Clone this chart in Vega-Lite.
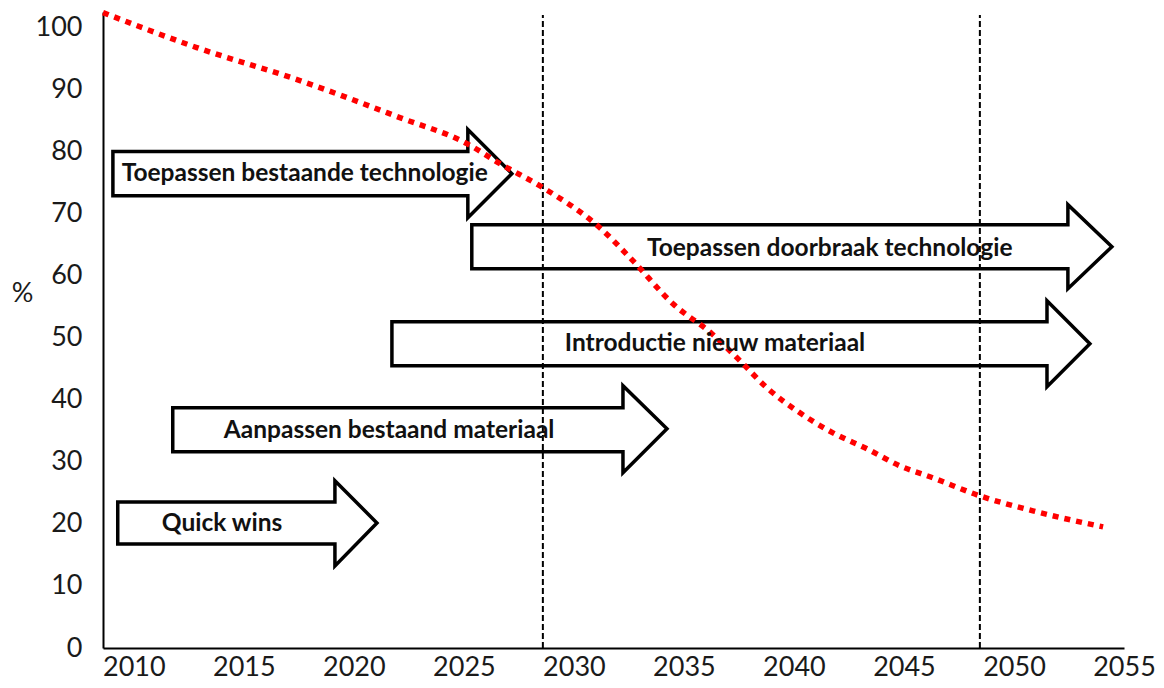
{
  "$schema": "https://vega.github.io/schema/vega-lite/v6.json",
  "width": 1021,
  "height": 636,
  "autosize": {"type": "none"},
  "padding": {"left": 103, "top": 12, "right": 40, "bottom": 40},
  "background": "white",
  "config": {"view": {"stroke": null}, "font": "Lato"},
  "datasets": {
    "curve": [
      {"year": 2008.6, "pct": 102.4},
      {"year": 2012.86, "pct": 96.77},
      {"year": 2017.55, "pct": 91.45},
      {"year": 2022.09, "pct": 85.48},
      {"year": 2025.14, "pct": 81.29},
      {"year": 2026.64, "pct": 78.06},
      {"year": 2028.59, "pct": 74.19},
      {"year": 2031.18, "pct": 67.74},
      {"year": 2032.68, "pct": 62.42},
      {"year": 2034.5, "pct": 55.48},
      {"year": 2036.27, "pct": 50.65},
      {"year": 2037.55, "pct": 46.29},
      {"year": 2038.77, "pct": 41.94},
      {"year": 2040.27, "pct": 37.9},
      {"year": 2041.77, "pct": 34.68},
      {"year": 2043.32, "pct": 32.1},
      {"year": 2044.82, "pct": 29.35},
      {"year": 2046.32, "pct": 27.42},
      {"year": 2048.45, "pct": 24.52},
      {"year": 2050.86, "pct": 22.1},
      {"year": 2054.05, "pct": 19.52}
    ],
    "arrows": [
      {"arrow": "A", "i": 0, "year": 2009.05, "pct": 80.0},
      {"arrow": "A", "i": 1, "year": 2025.18, "pct": 80.0},
      {"arrow": "A", "i": 2, "year": 2025.18, "pct": 83.55},
      {"arrow": "A", "i": 3, "year": 2027.18, "pct": 76.45},
      {"arrow": "A", "i": 4, "year": 2025.18, "pct": 69.35},
      {"arrow": "A", "i": 5, "year": 2025.18, "pct": 72.9},
      {"arrow": "A", "i": 6, "year": 2009.05, "pct": 72.9},
      {"arrow": "A", "i": 7, "year": 2009.05, "pct": 80.0},
      {"arrow": "B", "i": 0, "year": 2025.36, "pct": 68.23},
      {"arrow": "B", "i": 1, "year": 2052.45, "pct": 68.23},
      {"arrow": "B", "i": 2, "year": 2052.45, "pct": 71.45},
      {"arrow": "B", "i": 3, "year": 2054.45, "pct": 64.68},
      {"arrow": "B", "i": 4, "year": 2052.45, "pct": 57.9},
      {"arrow": "B", "i": 5, "year": 2052.45, "pct": 61.13},
      {"arrow": "B", "i": 6, "year": 2025.36, "pct": 61.13},
      {"arrow": "B", "i": 7, "year": 2025.36, "pct": 68.23},
      {"arrow": "C", "i": 0, "year": 2021.73, "pct": 52.58},
      {"arrow": "C", "i": 1, "year": 2051.5, "pct": 52.58},
      {"arrow": "C", "i": 2, "year": 2051.5, "pct": 55.97},
      {"arrow": "C", "i": 3, "year": 2053.45, "pct": 49.03},
      {"arrow": "C", "i": 4, "year": 2051.5, "pct": 42.1},
      {"arrow": "C", "i": 5, "year": 2051.5, "pct": 45.48},
      {"arrow": "C", "i": 6, "year": 2021.73, "pct": 45.48},
      {"arrow": "C", "i": 7, "year": 2021.73, "pct": 52.58},
      {"arrow": "D", "i": 0, "year": 2011.77, "pct": 38.71},
      {"arrow": "D", "i": 1, "year": 2032.23, "pct": 38.71},
      {"arrow": "D", "i": 2, "year": 2032.23, "pct": 42.26},
      {"arrow": "D", "i": 3, "year": 2034.23, "pct": 35.32},
      {"arrow": "D", "i": 4, "year": 2032.23, "pct": 28.23},
      {"arrow": "D", "i": 5, "year": 2032.23, "pct": 31.61},
      {"arrow": "D", "i": 6, "year": 2011.77, "pct": 31.61},
      {"arrow": "D", "i": 7, "year": 2011.77, "pct": 38.71},
      {"arrow": "E", "i": 0, "year": 2009.27, "pct": 23.55},
      {"arrow": "E", "i": 1, "year": 2019.14, "pct": 23.55},
      {"arrow": "E", "i": 2, "year": 2019.14, "pct": 26.94},
      {"arrow": "E", "i": 3, "year": 2021.05, "pct": 20.16},
      {"arrow": "E", "i": 4, "year": 2019.14, "pct": 13.23},
      {"arrow": "E", "i": 5, "year": 2019.14, "pct": 16.77},
      {"arrow": "E", "i": 6, "year": 2009.27, "pct": 16.77},
      {"arrow": "E", "i": 7, "year": 2009.27, "pct": 23.55}
    ],
    "labels": [
      {"label": "Toepassen bestaande technologie", "year": 2009.45, "pct": 76.45},
      {"label": "Toepassen doorbraak technologie", "year": 2033.32, "pct": 64.35},
      {"label": "Introductie nieuw materiaal", "year": 2029.59, "pct": 49.03},
      {"label": "Aanpassen bestaand materiaal", "year": 2014.09, "pct": 35.0},
      {"label": "Quick wins", "year": 2011.27, "pct": 20.0}
    ],
    "markers": [
      {"year": 2028.59, "low": 0, "high": 102},
      {"year": 2048.45, "low": 0, "high": 102}
    ]
  },
  "layer": [
    {
      "data": {"name": "arrows"},
      "mark": {"type": "line", "stroke": "black", "strokeWidth": 3.5, "strokeJoin": "miter", "strokeCap": "square"},
      "encoding": {
        "x": {
          "field": "year", "type": "quantitative",
          "scale": {"domain": [2008.6, 2055], "nice": false, "zero": false},
          "axis": {
            "values": [2010, 2015, 2020, 2025, 2030, 2035, 2040, 2045, 2050, 2055],
            "format": "d", "title": null, "grid": false, "ticks": false, "tickSize": 0,
            "domainColor": "black", "domainWidth": 2,
            "labelFont": "Lato", "labelFontSize": 27, "labelColor": "#1a1a1a",
            "labelPadding": 6, "labelFlush": false, "labelOverlap": false
          }
        },
        "y": {
          "field": "pct", "type": "quantitative",
          "scale": {"domain": [0, 102.5], "nice": false},
          "axis": {
            "values": [0, 10, 20, 30, 40, 50, 60, 70, 80, 90, 100],
            "title": "%", "titleAngle": 0, "titleX": -81, "titleY": 281,
            "titleAlign": "center", "titleBaseline": "middle",
            "titleFont": "Lato", "titleFontSize": 27, "titleFontWeight": "normal", "titleColor": "#1a1a1a",
            "grid": false, "ticks": false, "tickSize": 0,
            "domainColor": "black", "domainWidth": 2,
            "labelFont": "Lato", "labelFontSize": 27, "labelColor": "#1a1a1a",
            "labelPadding": 21, "labelFlush": false, "labelOverlap": false
          }
        },
        "detail": {"field": "arrow"},
        "order": {"field": "i", "type": "quantitative"}
      }
    },
    {
      "data": {"name": "markers"},
      "mark": {"type": "rule", "stroke": "black", "strokeWidth": 2, "strokeDash": [6, 3]},
      "encoding": {
        "x": {"field": "year", "type": "quantitative"},
        "y": {"field": "low", "type": "quantitative"},
        "y2": {"field": "high"}
      }
    },
    {
      "data": {"name": "curve"},
      "mark": {"type": "line", "stroke": "#ff0000", "strokeWidth": 5.5, "strokeDash": [6, 6], "interpolate": "monotone"},
      "encoding": {
        "x": {"field": "year", "type": "quantitative"},
        "y": {"field": "pct", "type": "quantitative"}
      }
    },
    {
      "data": {"name": "labels"},
      "mark": {"type": "text", "font": "Lato", "fontWeight": "bold", "fontSize": 24.5, "align": "left", "baseline": "middle", "color": "#111111"},
      "encoding": {
        "x": {"field": "year", "type": "quantitative"},
        "y": {"field": "pct", "type": "quantitative"},
        "text": {"field": "label"}
      }
    }
  ]
}
